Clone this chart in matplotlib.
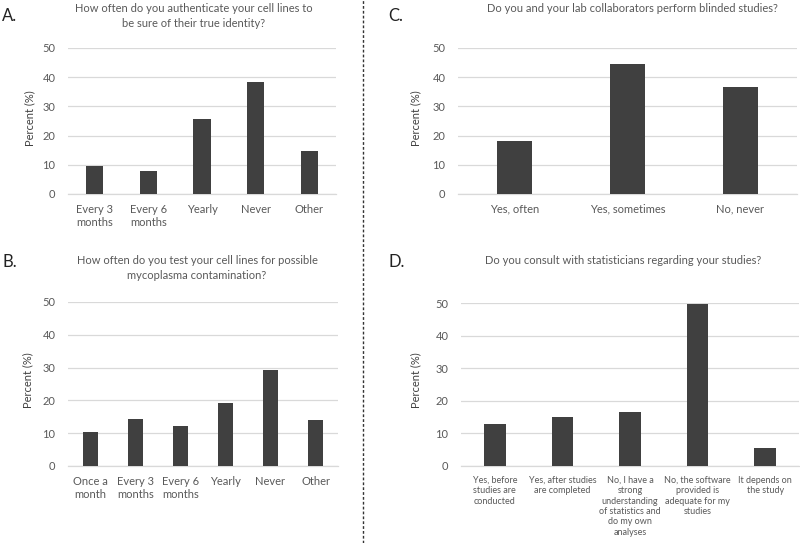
import matplotlib
matplotlib.use("Agg")
import matplotlib.pyplot as plt
from matplotlib.lines import Line2D

plt.rcParams['font.family'] = ['Lato', 'DejaVu Sans']

# --- data ---
cats_a = ["Every 3\nmonths", "Every 6\nmonths", "Yearly", "Never", "Other"]
vals_a = [9.5, 7.9, 25.8, 38.3, 14.8]

cats_b = ["Once a\nmonth", "Every 3\nmonths", "Every 6\nmonths", "Yearly", "Never", "Other"]
vals_b = [10.4, 14.2, 12.1, 19.2, 29.4, 13.9]

cats_c = ["Yes, often", "Yes, sometimes", "No, never"]
vals_c = [18.2, 44.5, 36.6]

cats_d = ["Yes, before\nstudies are\nconducted",
          "Yes, after studies\nare completed",
          "No, I have a\nstrong\nunderstanding\nof statistics and\ndo my own\nanalyses",
          "No, the software\nprovided is\nadequate for my\nstudies",
          "It depends on\nthe study"]
vals_d = [12.9, 14.9, 16.5, 49.8, 5.4]

titles = {
    "A": "How often do you authenticate your cell lines to\nbe sure of their true identity?",
    "B": "How often do you test your cell lines for possible\nmycoplasma contamination?",
    "C": "Do you and your lab collaborators perform blinded studies?",
    "D": "Do you consult with statisticians regarding your studies?",
}

W, H = 800, 543
fig = plt.figure(figsize=(W / 100, H / 100), dpi=100)

BAR = "#404040"
GRID = "#d9d9d9"
TXT = "#595959"


def px_axes(left, right, top, bottom):
    return fig.add_axes([left / W, 1 - bottom / H, (right - left) / W, (bottom - top) / H])


def panel(ax, cats, vals, tick_size=8, width=0.32):
    x = range(len(cats))
    ax.bar(x, vals, width=width, color=BAR, zorder=3)
    ax.set_xlim(-0.5, len(cats) - 0.5)
    ax.set_ylim(0, 50)
    ax.set_yticks([0, 10, 20, 30, 40, 50])
    ax.set_xticks(list(x))
    ax.set_xticklabels(cats, fontsize=tick_size, color=TXT, linespacing=1.2, va="top")
    ax.tick_params(axis="y", length=0, labelsize=8, colors=TXT, pad=9)
    ax.tick_params(axis="x", length=0, colors=TXT, pad=7)
    ax.grid(axis="y", color=GRID, lw=0.9, zorder=0)
    for s in ["top", "right", "left"]:
        ax.spines[s].set_visible(False)
    ax.spines["bottom"].set_color(GRID)
    ax.spines["bottom"].set_linewidth(0.9)


axA = px_axes(68, 336, 48, 194)
panel(axA, cats_a, vals_a)
axB = px_axes(68, 338, 302, 466)
panel(axB, cats_b, vals_b, width=0.33)
axC = px_axes(458, 797, 48, 194)
panel(axC, cats_c, vals_c, width=0.31)
axD = px_axes(461, 799, 303, 466)
panel(axD, cats_d, vals_d, tick_size=6.5)

# y labels
for xp, yp in [(30, 118), (28, 380), (416, 118), (416, 380)]:
    fig.text(xp / W, 1 - yp / H, "Percent (%)", rotation=90, ha="center", va="center",
             fontsize=8, color="#404040")

# titles
fig.text(194 / W, 1 - 16 / H, titles["A"], ha="center", va="center", fontsize=8,
         color=TXT, linespacing=1.4)
fig.text(197 / W, 1 - 268 / H, titles["B"], ha="center", va="center", fontsize=8,
         color=TXT, linespacing=1.4)
fig.text(632 / W, 1 - 8 / H, titles["C"], ha="center", va="center", fontsize=8, color=TXT)
fig.text(623 / W, 1 - 260 / H, titles["D"], ha="center", va="center", fontsize=8, color=TXT)

# panel letters
for letter, xp, yp in [("A.", 2, 16), ("B.", 2, 262), ("C.", 388, 16), ("D.", 388, 262)]:
    fig.text(xp / W, 1 - yp / H, letter, ha="left", va="center", fontsize=12, color="#222222")

# dashed divider
fig.add_artist(Line2D([363 / W, 363 / W], [0, 1], transform=fig.transFigure,
                      color="#333333", lw=1, ls=(0, (2, 1.5))))

fig.savefig("out.png", dpi=100)
